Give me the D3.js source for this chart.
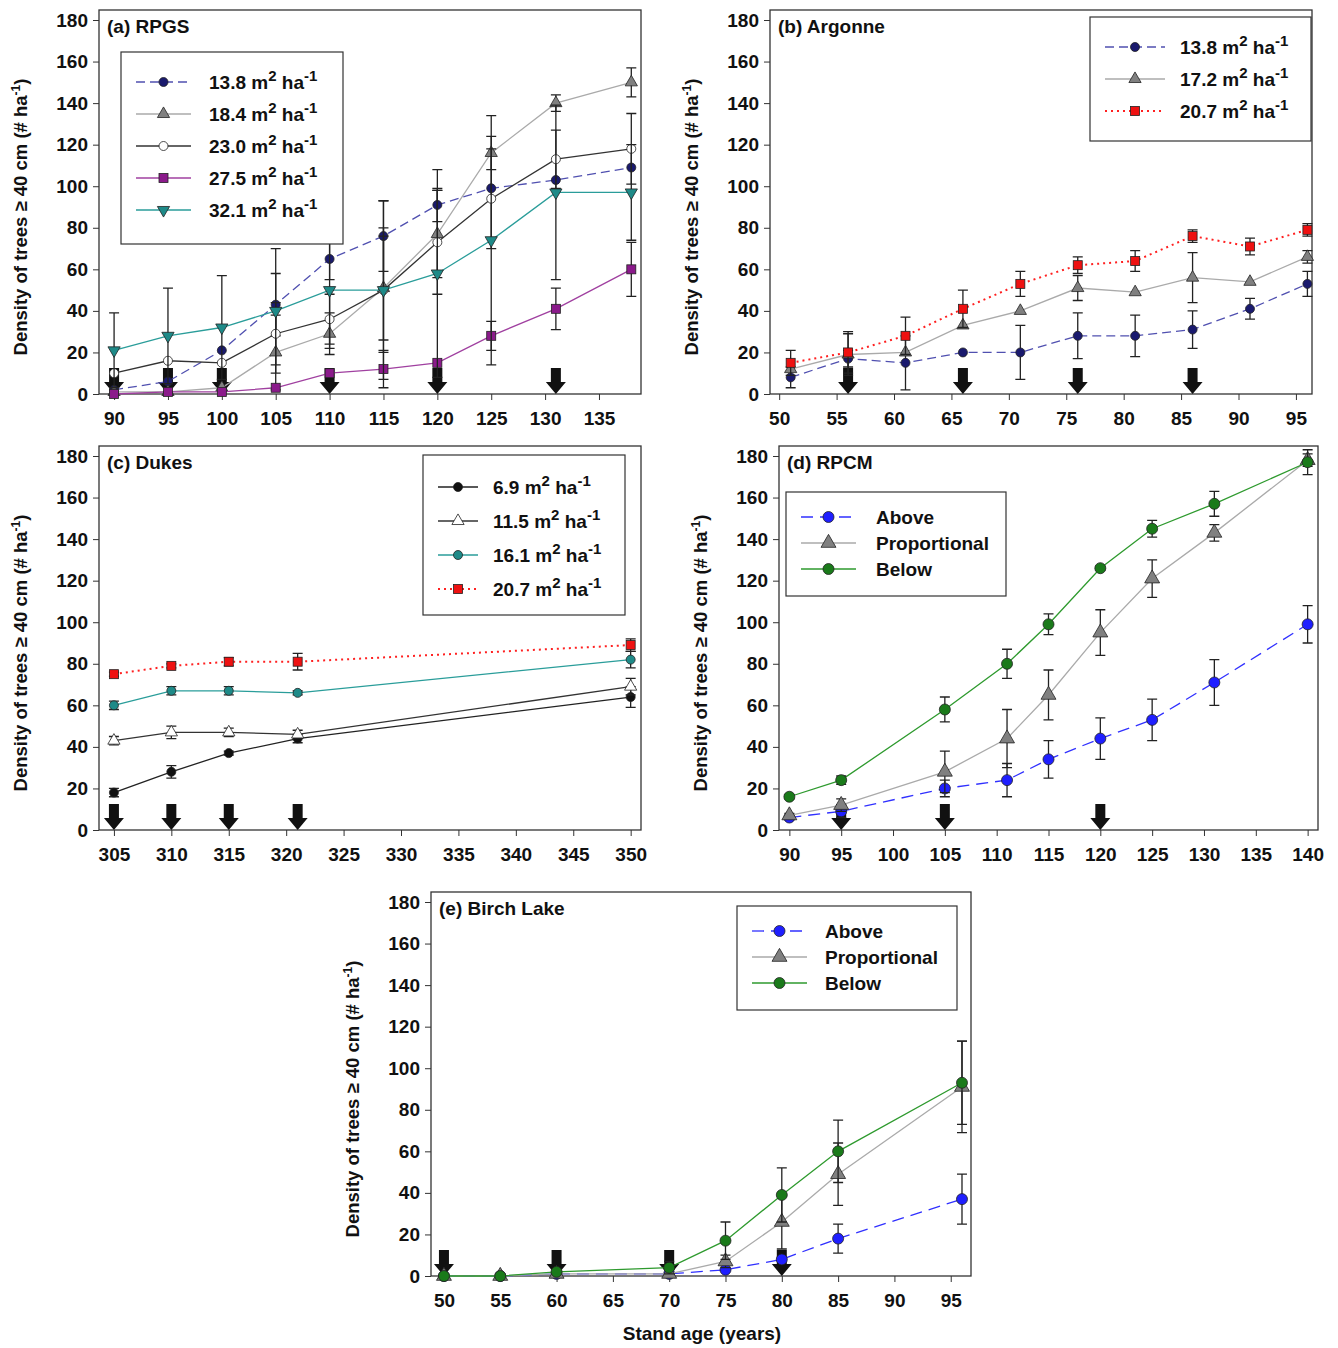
<!DOCTYPE html>
<html><head><meta charset="utf-8">
<script src="https://cdn.jsdelivr.net/npm/d3@7"></script>
<style>body{margin:0;background:#fff}text{font-family:"Liberation Sans",Arial,sans-serif;font-weight:bold}</style>
</head><body><svg id="c" width="1338" height="1348"></svg>
<script>
// panel (a) RPGS
const ageA = [90,95,100,105,110,115,120,125,131,138];
const a138 = [2,6,21,43,65,76,91,99,103,109];
const a184 = [1,1,3,20,29,51,77,116,140,150];
const a230 = [10,16,15,29,36,50,73,94,113,118];
const a275 = [0,1,1,3,10,12,15,28,41,60];
const a321 = [21,28,32,40,50,50,58,74,97,97];
const eA138 = [0,0,0,15,10,17,8,0,0,0];
const eA184 = [0,0,0,18,10,25,21,8,4,7];
const eA230 = [0,0,0,15,12,30,25,24,14,17];
const eA275 = [0,0,0,0,0,9,0,7,10,13];
const eA321 = [18,23,25,30,28,43,50,60,42,23];
const arrowsA = [90,95,100,110,120,131];
// panel (b) Argonne
const ageB = [51,56,61,66,71,76,81,86,91,96];
const b138 = [8,17,15,20,20,28,28,31,41,53];
const b172 = [12,19,20,33,40,51,49,56,54,66];
const b207 = [15,20,28,41,53,62,64,76,71,79];
const eB138 = [5,4,13,0,13,11,10,9,5,6];
const eB172 = [0,10,0,0,0,6,0,12,0,3];
const eB207 = [6,10,9,9,6,4,5,3,4,3];
const arrowsB = [56,66,76,86];
// panel (c) Dukes
const ageC = [305,310,315,321,350];
const c69 = [18,28,37,44,64];
const c115 = [43,47,47,46,69];
const c161 = [60,67,67,66,82];
const c207 = [75,79,81,81,89];
const eC69 = [2,3,1,2,5];
const eC115 = [2,3,2,2,4];
const eC161 = [2,2,2,1,4];
const eC207 = [1,1,2,4,3];
const arrowsC = [305,310,315,321];
// panel (d) RPCM
const ageD = [90,95,105,111,115,120,125,131,140];
const dAbove = [6,9,20,24,34,44,53,71,99];
const dProp = [7,12,28,44,65,95,121,143,178];
const dBelow = [16,24,58,80,99,126,145,157,177];
const eDAbove = [1,3,4,8,9,10,10,11,9];
const eDProp = [1,3,10,14,12,11,9,4,3];
const eDBelow = [1,2,6,7,5,1,4,6,6];
const arrowsD = [95,105,120];
// panel (e) Birch Lake
const ageE = [50,55,60,70,75,80,85,96];
const eAbove = [0,0,1,1,3,8,18,37];
const eProp = [0,0,1,1,7,26,49,91];
const eBelow = [0,0,2,4,17,39,60,93];
const erEAbove = [0,0,0,0,0,0,7,12];
const erEProp = [0,0,0,0,3,13,15,22];
const erEBelow = [0,0,0,3,9,13,15,20];
const arrowsE = [50,60,70,80];
const yTicks = d3.range(0,181,20);

const svg = d3.select("#c");
const C = {navy:"#1a1a6e", gray:"#999", grayF:"#808080", purple:"#9a3a9a", purpleF:"#8b1a8b", teal:"#2a9d9a", red:"#ff2020", blue:"#1f1fff", green:"#2e9a2e", greenF:"#1a7a1a"};

function marker(g, shape, x, y, fill, r){
  if(shape==="circle") g.append("circle").attr("cx",x).attr("cy",y).attr("r",r).attr("fill",fill).attr("stroke","#222").attr("stroke-width",0.8);
  else if(shape==="square") g.append("rect").attr("x",x-r).attr("y",y-r).attr("width",2*r).attr("height",2*r).attr("fill",fill).attr("stroke","#222").attr("stroke-width",0.8);
  else g.append("path").attr("d",d3.symbol().type(d3.symbolTriangle).size(r*r*3.2)()).attr("transform",`translate(${x},${y})${shape==="tridown"?" rotate(180)":""}`).attr("fill",fill).attr("stroke","#222").attr("stroke-width",0.8);
}

function panel(p){
  const g = svg.append("g");
  const x = d3.scaleLinear().domain(p.xd).range([p.l,p.r]);
  const y = d3.scaleLinear().domain([0,180]).range([p.b,p.b-374]);
  g.append("rect").attr("x",p.l).attr("y",p.t).attr("width",p.r-p.l).attr("height",p.b-p.t).attr("fill","none").attr("stroke","#333").attr("stroke-width",1.3);
  const ya = g.append("g").attr("transform",`translate(${p.l},0)`).call(d3.axisLeft(y).tickValues(yTicks).tickSize(6).tickSizeOuter(0));
  const xa = g.append("g").attr("transform",`translate(0,${p.b})`).call(d3.axisBottom(x).tickValues(p.xt).tickSize(6).tickSizeOuter(0));
  [ya,xa].forEach(a=>{a.select(".domain").remove();a.selectAll("line").attr("stroke","#333");a.selectAll("text").attr("font-size",19).attr("fill","#111");});
  ya.selectAll("text").attr("dx",-2);
  xa.selectAll("text").attr("dy","1.15em");
  g.append("text").attr("x",p.l+8).attr("y",p.t+23).attr("font-size",19).attr("fill","#111").text(p.title);
  const yt = g.append("text").attr("transform",`translate(${p.l-72},${(p.t+p.b)/2+15}) rotate(-90)`).attr("text-anchor","middle").attr("font-size",18.5).attr("fill","#111")
    .text("Density of trees ≥ 40 cm (# ha");
  yt.append("tspan").attr("baseline-shift","super").attr("font-size",12).text("-1");
  yt.append("tspan").text(")");
  p.arrows.forEach(a=>{
    const ax=x(a);
    g.append("path").attr("d",`M${ax-5},${p.b-26}h10v14h5l-10,12l-10,-12h5z`).attr("fill","#111");
  });
  p.series.forEach(s=>{
    const line = d3.line().x((d,i)=>x(p.ages[i])).y(d=>y(d));
    g.append("path").datum(s.v).attr("d",line).attr("fill","none").attr("stroke",s.c).attr("stroke-width",s.w||1.3).attr("stroke-dasharray",s.dash||null);
    s.v.forEach((v,i)=>{
      const e=s.e[i]; if(!e) return;
      const xx=x(p.ages[i]);
      g.append("path").attr("d",`M${xx},${y(v-e)}V${y(v+e)}M${xx-5},${y(v-e)}h10M${xx-5},${y(v+e)}h10`).attr("stroke","#222").attr("stroke-width",1.3).attr("fill","none");
    });
    s.v.forEach((v,i)=>marker(g,s.m,x(p.ages[i]),y(v),s.f,p.mr));
  });
  const L=p.leg;
  g.append("rect").attr("x",L.x).attr("y",L.y).attr("width",L.w).attr("height",L.h).attr("fill","#fff").attr("stroke","#333").attr("stroke-width",1.2);
  p.series.forEach((s,i)=>{
    const yy=L.y+L.y0+i*L.dy;
    g.append("line").attr("x1",L.x+15).attr("x2",L.x+15+L.lw).attr("y1",yy).attr("y2",yy).attr("stroke",s.c).attr("stroke-width",s.w||1.3).attr("stroke-dasharray",s.dash||null);
    marker(g,s.m,L.x+15+L.lw/2,yy,s.f,p.mr);
    const t=g.append("text").attr("x",L.x+L.tx).attr("y",yy+7).attr("font-size",19).attr("fill","#111");
    if(s.n){ t.text(s.label); }
    else { t.text(s.label+" m"); t.append("tspan").attr("baseline-shift","super").attr("font-size",15).text("2");
      t.append("tspan").attr("baseline-shift","baseline").text(" ha"); t.append("tspan").attr("baseline-shift","super").attr("font-size",15).text("-1"); }
  });
}

panel({title:"(a) RPGS", l:99,r:641,t:10,b:394, xd:[88.6,138.9], xt:d3.range(90,136,5), ages:ageA, arrows:arrowsA, mr:4.5,
  leg:{x:121,y:52,w:222,h:192,y0:30,dy:32,lw:55,tx:88},
  series:[
    {label:"13.8",v:a138,e:eA138,c:"#5050b0",f:C.navy,m:"circle",dash:"9,5"},
    {label:"18.4",v:a184,e:eA184,c:"#aaa",f:C.grayF,m:"tri"},
    {label:"23.0",v:a230,e:eA230,c:"#333",f:"#fff",m:"circle"},
    {label:"27.5",v:a275,e:eA275,c:"#a040a0",f:C.purpleF,m:"square"},
    {label:"32.1",v:a321,e:eA321,c:C.teal,f:"#1e8a88",m:"tridown"}]});

panel({title:"(b) Argonne", l:770,r:1312,t:10,b:394, xd:[49.2,96.4], xt:d3.range(50,96,5), ages:ageB, arrows:arrowsB, mr:4.5,
  leg:{x:1090,y:17,w:221,h:124,y0:30,dy:32,lw:60,tx:90},
  series:[
    {label:"13.8",v:b138,e:eB138,c:"#5050b0",f:C.navy,m:"circle",dash:"9,5"},
    {label:"17.2",v:b172,e:eB172,c:"#aaa",f:C.grayF,m:"tri"},
    {label:"20.7",v:b207,e:eB207,c:C.red,f:"#ee1111",m:"square",dash:"2,4",w:2}]});

panel({title:"(c) Dukes", l:99,r:641,t:446,b:830, xd:[303.7,350.9], xt:d3.range(305,351,5), ages:ageC, arrows:arrowsC, mr:4.5,
  leg:{x:423,y:455,w:202,h:160,y0:32,dy:34,lw:40,tx:70},
  series:[
    {label:"6.9",v:c69,e:eC69,c:"#222",f:"#111",m:"circle"},
    {label:"11.5",v:c115,e:eC115,c:"#333",f:"#fff",m:"tri"},
    {label:"16.1",v:c161,e:eC161,c:C.teal,f:"#1e8a88",m:"circle"},
    {label:"20.7",v:c207,e:eC207,c:C.red,f:"#ee1111",m:"square",dash:"2,4",w:2}]});

panel({title:"(d) RPCM", l:779,r:1318,t:446,b:830, xd:[89.0,141.0], xt:d3.range(90,141,5), ages:ageD, arrows:arrowsD, mr:5.5,
  leg:{x:786,y:492,w:220,h:104,y0:25,dy:26,lw:55,tx:90},
  series:[
    {label:"Above",n:1,v:dAbove,e:eDAbove,c:"#3030ff",f:C.blue,m:"circle",dash:"12,7"},
    {label:"Proportional",n:1,v:dProp,e:eDProp,c:"#aaa",f:C.grayF,m:"tri"},
    {label:"Below",n:1,v:dBelow,e:eDBelow,c:C.green,f:C.greenF,m:"circle"}]});

panel({title:"(e) Birch Lake", l:431,r:971,t:892,b:1276, xd:[48.85,96.8], xt:d3.range(50,96,5), ages:ageE, arrows:arrowsE, mr:5.5,
  leg:{x:737,y:906,w:220,h:104,y0:25,dy:26,lw:55,tx:88},
  series:[
    {label:"Above",n:1,v:eAbove,e:erEAbove,c:"#3030ff",f:C.blue,m:"circle",dash:"12,7"},
    {label:"Proportional",n:1,v:eProp,e:erEProp,c:"#aaa",f:C.grayF,m:"tri"},
    {label:"Below",n:1,v:eBelow,e:erEBelow,c:C.green,f:C.greenF,m:"circle"}]});

svg.append("text").attr("x",702).attr("y",1340).attr("text-anchor","middle").attr("font-size",19).attr("fill","#111").text("Stand age (years)");
</script></body></html>
